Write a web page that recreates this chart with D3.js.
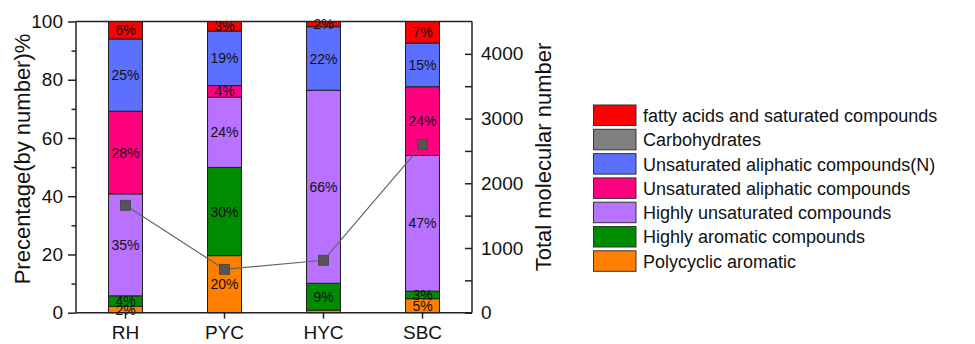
<!DOCTYPE html>
<html>
<head>
<meta charset="utf-8">
<script src="https://cdn.jsdelivr.net/npm/d3@7"></script>
<style>
  html, body { margin: 0; padding: 0; background: #fff; }
  svg { display: block; font-family: Arial, "Liberation Sans", sans-serif; }
</style>
</head>
<body>
<svg id="chart" width="975" height="344"></svg>
<script>
// Samples on the x axis
const categories = ["RH", "PYC", "HYC", "SBC"];

// Composition by molecule count (%), one array per compound class, stacked bottom to top
const polycyclicAromatic = [2.2, 19.6, 0.9, 4.8];
const highlyAromatic = [3.6, 30.3, 9.2, 2.6];
const highlyUnsaturated = [35.0, 24.1, 66.3, 46.6];
const unsaturatedAliphatic = [28.4, 4.0, 0.0, 23.6];
const unsaturatedAliphaticN = [24.8, 18.7, 21.8, 15.0];
const carbohydrates = [0, 0, 0, 0];
const fattyAcids = [6.0, 3.3, 1.8, 7.4];

// Total molecular number (right axis)
const totalMolecular = [1660, 670, 810, 2600];

// Tick values
const leftTicks = [0, 20, 40, 60, 80, 100];
const leftMinorTicks = [10, 30, 50, 70, 90];
const rightTicks = [0, 1000, 2000, 3000, 4000];
const rightMinorTicks = [500, 1500, 2500, 3500];

const series = [
  { name: "Polycyclic aromatic", values: polycyclicAromatic, color: "#FF8000" },
  { name: "Highly aromatic compounds", values: highlyAromatic, color: "#008C00" },
  { name: "Highly unsaturated compounds", values: highlyUnsaturated, color: "#B872FF" },
  { name: "Unsaturated aliphatic compounds", values: unsaturatedAliphatic, color: "#FF0080" },
  { name: "Unsaturated aliphatic compounds(N)", values: unsaturatedAliphaticN, color: "#5C70FF" },
  { name: "Carbohydrates", values: carbohydrates, color: "#808080" },
  { name: "fatty acids and saturated compounds", values: fattyAcids, color: "#FF0000" }
];

const svg = d3.select("#chart");
const plotL = 76, plotR = 472, plotT = 21.5, plotB = 312.7;
const axisColor = "#222";
const tickFont = "Arial, 'Liberation Sans', sans-serif";

const x = d3.scaleBand().domain(categories).range([plotL, plotR])
  .paddingInner(0.657).paddingOuter(0.3285);
const y = d3.scaleLinear().domain([0, 100]).range([plotB, plotT]);
const y2 = d3.scaleLinear().domain([0, 4500]).range([plotB, plotT]);

// Stack the classes
const table = categories.map((c, i) => {
  const row = { cat: c };
  series.forEach(s => { row[s.name] = s.values[i]; });
  return row;
});
const layers = d3.stack().keys(series.map(s => s.name))(table);

const gBars = svg.append("g");
layers.forEach((layer, li) => {
  const s = series[li];
  layer.forEach((d, i) => {
    const v = d[1] - d[0];
    if (v <= 0) return;
    gBars.append("rect")
      .attr("x", x(categories[i]))
      .attr("y", y(d[1]))
      .attr("width", x.bandwidth())
      .attr("height", y(d[0]) - y(d[1]))
      .attr("fill", s.color)
      .attr("stroke", "#222")
      .attr("stroke-width", 1);
  });
});

// Percentage labels inside segments
const fmt = d3.format(".0f");
layers.forEach((layer) => {
  layer.forEach((d, i) => {
    const v = d[1] - d[0];
    if (v < 1.5) return;
    gBars.append("text")
      .attr("x", x(categories[i]) + x.bandwidth() / 2)
      .attr("y", y((d[0] + d[1]) / 2))
      .attr("dy", "0.36em")
      .attr("text-anchor", "middle")
      .attr("font-size", 14)
      .attr("fill", "#111")
      .text(fmt(v) + "%");
  });
});

// Frame
const axes = svg.append("g").attr("stroke", axisColor).attr("stroke-width", 1.5).attr("fill", "none");
axes.append("line").attr("x1", plotL).attr("x2", plotR).attr("y1", plotT).attr("y2", plotT);
axes.append("line").attr("x1", plotL).attr("x2", plotR).attr("y1", plotB).attr("y2", plotB);
axes.append("line").attr("x1", plotL).attr("x2", plotL).attr("y1", plotT).attr("y2", plotB);
axes.append("line").attr("x1", plotR).attr("x2", plotR).attr("y1", plotT).attr("y2", plotB);

// Left axis
const gLeft = svg.append("g").attr("transform", `translate(${plotL},0)`)
  .call(d3.axisLeft(y).tickValues(leftTicks).tickSize(8).tickPadding(5).tickFormat(d3.format("d")));
gLeft.select(".domain").remove();
gLeft.selectAll(".tick line").attr("stroke", axisColor).attr("stroke-width", 1.5);
gLeft.selectAll(".tick text").attr("font-size", 19).attr("fill", "#111").attr("font-family", tickFont);
const gLeftMinor = svg.append("g").attr("transform", `translate(${plotL},0)`)
  .call(d3.axisLeft(y).tickValues(leftMinorTicks).tickSize(4.5).tickFormat(""));
gLeftMinor.select(".domain").remove();
gLeftMinor.selectAll(".tick line").attr("stroke", axisColor).attr("stroke-width", 1.5);

// Right axis (ticks point inward)
const gRight = svg.append("g").attr("transform", `translate(${plotR},0)`)
  .call(d3.axisRight(y2).tickValues(rightTicks).tickSize(-7).tickPadding(9).tickFormat(d3.format("d")));
gRight.select(".domain").remove();
gRight.selectAll(".tick line").attr("stroke", axisColor).attr("stroke-width", 1.5);
gRight.selectAll(".tick text").attr("font-size", 19).attr("fill", "#111").attr("font-family", tickFont);
const gRightMinor = svg.append("g").attr("transform", `translate(${plotR},0)`)
  .call(d3.axisRight(y2).tickValues(rightMinorTicks).tickSize(-7).tickFormat(""));
gRightMinor.select(".domain").remove();
gRightMinor.selectAll(".tick line").attr("stroke", axisColor).attr("stroke-width", 1.5);

// Bottom axis
const gBottom = svg.append("g").attr("transform", `translate(0,${plotB})`)
  .call(d3.axisBottom(x).tickSize(6).tickPadding(7));
gBottom.select(".domain").remove();
gBottom.selectAll(".tick line").attr("stroke", axisColor).attr("stroke-width", 1.5);
gBottom.selectAll(".tick text").attr("font-size", 19).attr("fill", "#111").attr("font-family", tickFont);

// Axis titles
svg.append("text")
  .attr("transform", "translate(22,159) rotate(-90)")
  .attr("text-anchor", "middle").attr("dy", "0.36em")
  .attr("font-size", 22).attr("fill", "#111")
  .text("Precentage(by number)%");
svg.append("text")
  .attr("transform", "translate(543,157) rotate(-90)")
  .attr("text-anchor", "middle").attr("dy", "0.36em")
  .attr("font-size", 22).attr("fill", "#111")
  .text("Total molecular number");

// Total molecular number line with square markers
const cx = c => x(c) + x.bandwidth() / 2;
const line = d3.line().x((d, i) => cx(categories[i])).y(d => y2(d));
svg.append("path").datum(totalMolecular)
  .attr("d", line).attr("fill", "none").attr("stroke", "#666").attr("stroke-width", 1.2);
svg.append("g").selectAll("rect").data(totalMolecular).join("rect")
  .attr("x", (d, i) => cx(categories[i]) - 5)
  .attr("y", d => y2(d) - 5)
  .attr("width", 10).attr("height", 10)
  .attr("fill", "#555").attr("stroke", "#444").attr("stroke-width", 0.8);

// Legend, top entry is the top of the stack
const legendItems = series.slice().reverse();
const lg = svg.append("g").attr("transform", "translate(593.5,105)");
legendItems.forEach((s, i) => {
  const g = lg.append("g").attr("transform", `translate(0,${i * 24.3})`);
  g.append("rect").attr("width", 42.5).attr("height", 20.5)
    .attr("fill", s.color).attr("stroke", "#333").attr("stroke-width", 1);
  g.append("text").attr("x", 49.5).attr("y", 10.5).attr("dy", "0.36em")
    .attr("font-size", 18).attr("fill", "#111").text(s.name);
});
</script>
</body>
</html>
